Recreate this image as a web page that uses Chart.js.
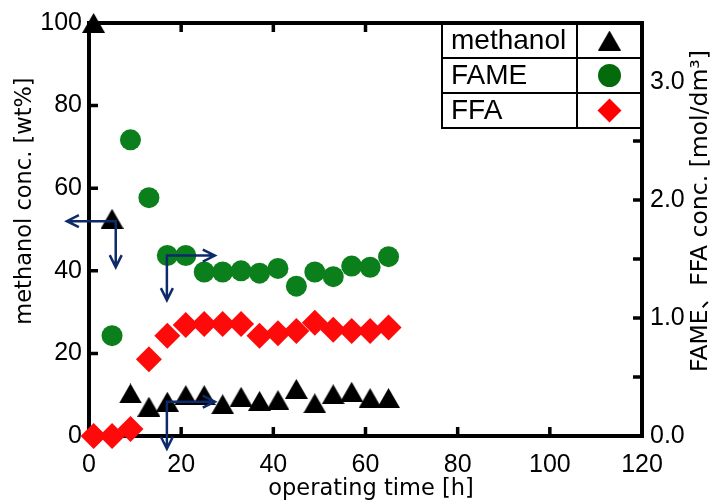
<!DOCTYPE html>
<html>
<head>
<meta charset="utf-8">
<script src="https://cdn.jsdelivr.net/npm/chart.js@4/dist/chart.umd.min.js"></script>
<style>
  html, body { margin: 0; padding: 0; background: #fff; }
</style>
</head>
<body>
<canvas id="chart" width="717" height="504"></canvas>
<script>
// operating time [h]
const times = [1, 5, 9, 13, 17, 21, 25, 29, 33, 37, 41, 45, 49, 53, 57, 61, 65];
const fameTimes = [5, 9, 13, 17, 21, 25, 29, 33, 37, 41, 45, 49, 53, 57, 61, 65];

// methanol conc. [wt%] (left axis)
const methanol = [100, 52.6, 10.3, 7.1, 8.3, 9.9, 9.9, 7.7, 9.5, 8.5, 8.7, 11.4, 7.9, 10.1, 10.7, 9.2, 9.2];
// FAME / FFA conc. [mol/dm3] (right axis)
const fame = [0.85, 2.51, 2.02, 1.53, 1.53, 1.39, 1.39, 1.40, 1.38, 1.42, 1.27, 1.39, 1.35, 1.44, 1.43, 1.52];
const ffa = [0, 0, 0.06, 0.65, 0.85, 0.94, 0.95, 0.95, 0.95, 0.85, 0.87, 0.89, 0.96, 0.90, 0.89, 0.89, 0.92];

const seriesNames = ['methanol', 'FAME', 'FFA'];

const xTickValues = [0, 20, 40, 60, 80, 100, 120];
const xTickLabels = ['0', '20', '40', '60', '80', '100', '120'];
const leftTickValues = [0, 20, 40, 60, 80, 100];
const leftTickLabels = ['0', '20', '40', '60', '80', '100'];
const rightTickValues = [0, 0.5, 1, 1.5, 2, 2.5, 3, 3.5];
const rightTickLabels = ['0.0', '', '1.0', '', '2.0', '', '3.0', ''];

const xTitle = 'operating time [h]';
const leftTitle = 'methanol conc. [wt%]';
const rightTitle = 'FAME、FFA conc. [mol/dm³]';

// annotation arrows: corner (x, y on left axis), horizontal tip hx, vertical tip vy
const arrows = [
  { x: 5.8, y: 52.0, hx: -4.8, vy: 40.9 },
  { x: 16.9, y: 43.7, hx: 27.3, vy: 32.9 },
  { x: 16.9, y: 8.3, hx: 27.3, vy: -3.1 }
];

const GREEN = '#0b7f1c';
const RED = '#ff0a0a';
const NAVY = '#0d2b6b';
const TICK_FONT = { family: "'Liberation Sans', Arial, sans-serif", size: 25 };
const TITLE_FAMILY = "'DejaVu Sans', 'Noto Sans CJK JP', sans-serif";

// triangle centred on its bounding box (as in the source plot)
function makeTriangle(w, h, color) {
  const c = document.createElement('canvas');
  c.width = w; c.height = h;
  const g = c.getContext('2d');
  g.fillStyle = color;
  g.beginPath();
  g.moveTo(w / 2, 0);
  g.lineTo(w, h);
  g.lineTo(0, h);
  g.closePath();
  g.fill();
  return c;
}
const triangle = makeTriangle(23, 20, '#000');

function xy(xs, ys) {
  return xs.map((x, i) => ({ x: x, y: ys[i] }));
}

function arrowHead(ctx, x, y, dx, dy) {
  const len = 12, half = 6;
  const px = -dy, py = dx;
  ctx.moveTo(x - dx * len + px * half, y - dy * len + py * half);
  ctx.lineTo(x, y);
  ctx.lineTo(x - dx * len - px * half, y - dy * len - py * half);
}

const framePlugin = {
  id: 'frame',
  beforeDatasetsDraw(chart) {
    const { ctx, chartArea: a, scales } = chart;
    ctx.save();
    ctx.strokeStyle = '#000';
    ctx.lineWidth = 3.5;
    ctx.beginPath();
    xTickValues.forEach(v => {
      const px = scales.x.getPixelForValue(v);
      ctx.moveTo(px, a.bottom); ctx.lineTo(px, a.bottom - 9);
      ctx.moveTo(px, a.top); ctx.lineTo(px, a.top + 9);
    });
    leftTickValues.forEach(v => {
      const py = scales.y.getPixelForValue(v);
      ctx.moveTo(a.left, py); ctx.lineTo(a.left + 9, py);
    });
    rightTickValues.forEach(v => {
      const py = scales.y2.getPixelForValue(v);
      ctx.moveTo(a.right, py); ctx.lineTo(a.right - 9, py);
    });
    ctx.stroke();
    ctx.lineWidth = 4;
    ctx.strokeRect(a.left, a.top, a.right - a.left, a.bottom - a.top);
    ctx.restore();
  },
  afterDatasetsDraw(chart) {
    const { ctx, chartArea: a, scales } = chart;
    ctx.save();

    // arrows
    ctx.strokeStyle = NAVY;
    ctx.lineWidth = 2.5;
    ctx.lineJoin = 'miter';
    arrows.forEach(ar => {
      const cx = scales.x.getPixelForValue(ar.x);
      const cy = scales.y.getPixelForValue(ar.y);
      const hx = scales.x.getPixelForValue(ar.hx);
      const vy = scales.y.getPixelForValue(ar.vy);
      ctx.beginPath();
      ctx.moveTo(hx, cy); ctx.lineTo(cx, cy); ctx.lineTo(cx, vy);
      arrowHead(ctx, hx, cy, Math.sign(hx - cx), 0);
      arrowHead(ctx, cx, vy, 0, 1);
      ctx.stroke();
    });

    // legend table
    const lx = 442, rx = a.right, ty = a.top, rowH = 35, colX = 577;
    const by = ty + rowH * 3;
    ctx.fillStyle = '#fff';
    ctx.fillRect(lx, ty, rx - lx, by - ty);
    ctx.strokeStyle = '#000';
    ctx.lineWidth = 2;
    ctx.beginPath();
    ctx.moveTo(lx, ty); ctx.lineTo(lx, by); ctx.lineTo(rx, by);
    ctx.moveTo(colX, ty); ctx.lineTo(colX, by);
    ctx.moveTo(lx, ty + rowH); ctx.lineTo(rx, ty + rowH);
    ctx.moveTo(lx, ty + rowH * 2); ctx.lineTo(rx, ty + rowH * 2);
    ctx.stroke();
    ctx.lineWidth = 4;
    ctx.beginPath();
    ctx.moveTo(lx - 1, ty); ctx.lineTo(rx, ty); ctx.lineTo(rx, by);
    ctx.stroke();

    ctx.font = "28px 'Liberation Sans', Arial, sans-serif";
    ctx.fillStyle = '#000';
    ctx.textAlign = 'left';
    ctx.textBaseline = 'middle';
    const mx = (colX + rx) / 2;
    seriesNames.forEach((name, i) => {
      const cy = ty + rowH * i + rowH / 2;
      ctx.fillStyle = '#000';
      ctx.fillText(name, 451, cy + 1);
      if (i === 0) {
        ctx.drawImage(triangle, mx - 11.5, cy - 10);
      } else if (i === 1) {
        ctx.fillStyle = '#036b0b';
        ctx.beginPath(); ctx.arc(mx, cy, 11.5, 0, Math.PI * 2); ctx.fill();
      } else {
        ctx.fillStyle = '#ff0000';
        ctx.beginPath();
        ctx.moveTo(mx, cy - 12); ctx.lineTo(mx + 12, cy); ctx.lineTo(mx, cy + 12); ctx.lineTo(mx - 12, cy);
        ctx.closePath(); ctx.fill();
      }
    });

    // axis titles
    ctx.fillStyle = '#000';
    ctx.textAlign = 'center';
    ctx.textBaseline = 'middle';
    ctx.font = '22.5px ' + TITLE_FAMILY;
    ctx.fillText(xTitle, 371, 489);

    ctx.save();
    ctx.translate(25, 201);
    ctx.rotate(-Math.PI / 2);
    ctx.fillText(leftTitle, 0, 0);
    ctx.restore();

    ctx.save();
    ctx.font = '23.5px ' + TITLE_FAMILY;
    ctx.translate(701, 211);
    ctx.rotate(-Math.PI / 2);
    ctx.fillText(rightTitle, 0, 0);
    ctx.restore();

    ctx.restore();
  }
};

new Chart(document.getElementById('chart').getContext('2d'), {
  type: 'scatter',
  data: {
    datasets: [
      {
        label: seriesNames[0],
        data: xy(times, methanol),
        yAxisID: 'y',
        pointStyle: triangle,
        pointRadius: 12,
        clip: false
      },
      {
        label: seriesNames[1],
        data: xy(fameTimes, fame),
        yAxisID: 'y2',
        pointStyle: 'circle',
        pointRadius: 10.5,
        pointBorderWidth: 0,
        backgroundColor: GREEN,
        borderColor: GREEN,
        clip: false
      },
      {
        label: seriesNames[2],
        data: xy(times, ffa),
        yAxisID: 'y2',
        pointStyle: 'rectRot',
        pointRadius: 13,
        pointBorderWidth: 0,
        backgroundColor: RED,
        borderColor: RED,
        clip: false
      }
    ]
  },
  options: {
    responsive: false,
    animation: false,
    events: [],
    layout: { padding: { top: 22, left: 0, right: 0, bottom: 0 } },
    plugins: {
      legend: { display: false },
      tooltip: { enabled: false }
    },
    scales: {
      x: {
        type: 'linear',
        position: 'bottom',
        min: 0, max: 120,
        grid: { display: false, drawTicks: false },
        border: { display: false },
        ticks: {
          font: TICK_FONT, color: '#000', padding: 14, maxRotation: 0, autoSkip: false,
          callback: (v, i) => xTickLabels[i]
        },
        afterBuildTicks: s => { s.ticks = xTickValues.map(v => ({ value: v })); },
        afterFit: s => { s.height = 68; }
      },
      y: {
        type: 'linear',
        position: 'left',
        min: 0, max: 100,
        grid: { display: false, drawTicks: false },
        border: { display: false },
        ticks: {
          font: TICK_FONT, color: '#000', padding: 7, autoSkip: false,
          callback: (v, i) => leftTickLabels[i]
        },
        afterBuildTicks: s => { s.ticks = leftTickValues.map(v => ({ value: v })); },
        afterFit: s => { s.width = 89; }
      },
      y2: {
        type: 'linear',
        position: 'right',
        min: 0, max: 3.5,
        grid: { display: false, drawTicks: false },
        border: { display: false },
        ticks: {
          font: TICK_FONT, color: '#000', padding: 8, autoSkip: false,
          callback: (v, i) => rightTickLabels[i]
        },
        afterBuildTicks: s => { s.ticks = rightTickValues.map(v => ({ value: v })); },
        afterFit: s => { s.width = 75; }
      }
    }
  },
  plugins: [framePlugin]
});
</script>
</body>
</html>
